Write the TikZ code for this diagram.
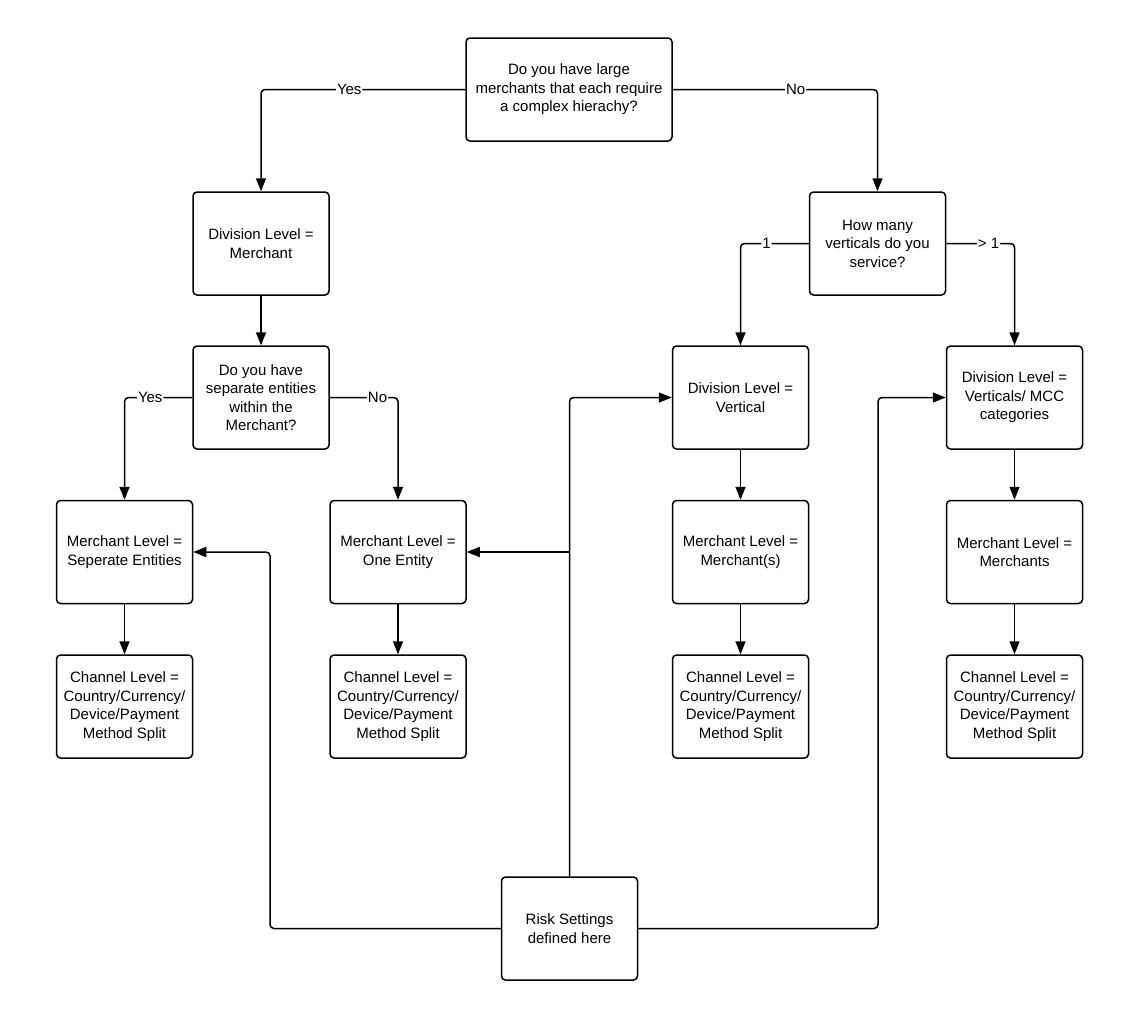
\documentclass[tikz,border=0pt]{standalone}
\usepackage{fontspec}
\setmainfont{Liberation Sans}
\usetikzlibrary{arrows.meta}

\begin{document}
\begin{tikzpicture}[
    x=1pt, y=-1pt,
    box/.style={draw, line width=1.5pt, rectangle, rounded corners=4pt, align=center, minimum width=136pt, minimum height=103pt, font=\fontsize{15}{18.5}\selectfont},
    line/.style={draw, line width=1.5pt, rounded corners=4pt, -{Triangle[length=13pt,width=10pt]}},
    lbl/.style={fill=white, inner sep=1pt, font=\fontsize{15}{18}\selectfont}
]
\useasboundingbox (0,0) rectangle (1137,1021);

\node[box, minimum width=206pt] (q1) at (569,89.5) {Do you have large\\merchants that each require\\a complex hierachy?};
\node[box] (divm) at (261,243.5) {Division Level =\\Merchant};
\node[box] (q3) at (877.5,243.5) {How many\\verticals do you\\service?};
\node[box] (q2) at (261,397.5) {Do you have\\separate entities\\within the\\Merchant?};
\node[box] (divv) at (740.5,397.5) {Division Level =\\Vertical};
\node[box] (divmcc) at (1014.5,397.5) {Division Level =\\Verticals/ MCC\\categories};

\node[box] (mlsep) at (124.5,552) {Merchant Level =\\Seperate Entities};
\node[box] (mlone) at (398,552) {Merchant Level =\\One Entity};
\node[box] (mlmer) at (740.5,552) {Merchant Level =\\Merchant(s)};
\node[box] (mlmers) at (1014.5,552) {Merchant Level =\\Merchants};

\node[box] (chsep) at (124.5,706.5) {Channel Level =\\Country/Currency/\\Device/Payment\\Method Split};
\node[box] (chone) at (398,706.5) {Channel Level =\\Country/Currency/\\Device/Payment\\Method Split};
\node[box] (chmer) at (740.5,706.5) {Channel Level =\\Country/Currency/\\Device/Payment\\Method Split};
\node[box] (chmers) at (1014.5,706.5) {Channel Level =\\Country/Currency/\\Device/Payment\\Method Split};

\node[box] (risk) at (569.5,928.5) {Risk Settings\\defined here};

\coordinate (riskl) at (270,552);
\coordinate (riskr) at (878,397.5);

\draw[line] (q1.west) -| node[lbl, pos=0.284] {Yes} (divm.north);
\draw[line] (q1.east) -| node[lbl, pos=0.3] {No} (q3.north);
\draw[line] (divm) -- (q2);
\draw[line] (q2.west) -| node[lbl, pos=0.31] {Yes} (mlsep.north);
\draw[line] (q2.east) -| node[lbl, pos=0.35] {No} (mlone.north);
\draw[line] (q3.west) -| node[lbl, pos=0.31] {1} (divv.north);
\draw[line] (q3.east) -| node[lbl, pos=0.31] {> 1} (divmcc.north);

\draw[line] (mlsep) -- (chsep);
\draw[line] (mlone) -- (chone);
\draw[line] (divv) -- (mlmer);
\draw[line] (mlmer) -- (chmer);
\draw[line] (divmcc) -- (mlmers);
\draw[line] (mlmers) -- (chmers);

\draw[line] (risk.west) -| (riskl) -- (mlsep.east);
\draw[line] (risk.north) |- (divv.west);
\draw[line] (risk.north |- mlone.east) -- (mlone.east);
\draw[line] (risk.east) -| (riskr) -- (divmcc.west);

\end{tikzpicture}
\end{document}
